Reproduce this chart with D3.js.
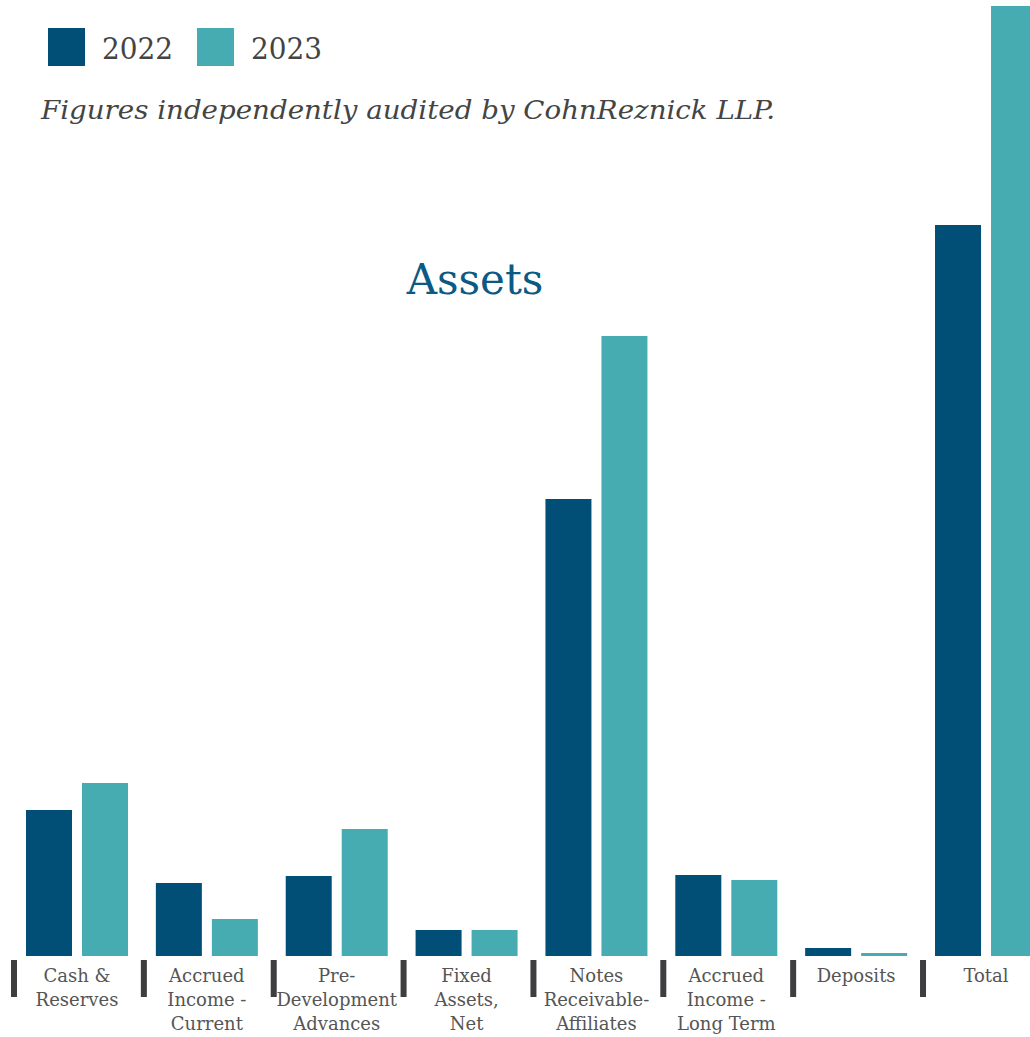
<!DOCTYPE html>
<html>
<head>
<meta charset="utf-8">
<script src="https://cdn.jsdelivr.net/npm/d3@7"></script>
<style>
  html, body { margin: 0; padding: 0; background: #ffffff; }
  svg { display: block; }
</style>
</head>
<body>
<svg id="chart" width="1030" height="1037"></svg>
<script>
// ---- data ----
const categories = ["Cash & Reserves", "Accrued Income - Current", "Pre-Development Advances", "Fixed Assets, Net",
  "Notes Receivable-Affiliates", "Accrued Income - Long Term", "Deposits", "Total"];
const categoryLines = [["Cash &", "Reserves"], ["Accrued", "Income -", "Current"], ["Pre-", "Development", "Advances"],
  ["Fixed", "Assets,", "Net"], ["Notes", "Receivable-", "Affiliates"], ["Accrued", "Income -", "Long Term"],
  ["Deposits"], ["Total"]];
const years = ["2022", "2023"];
const values2022 = [146, 73, 80, 26, 457, 81, 8, 731];
const values2023 = [173, 37, 127, 26, 620, 76, 3, 950];
const titleText = "Assets";
const noteText = "Figures independently audited by CohnReznick LLP.";

// ---- styles ----
const colors = { "2022": "#014e76", "2023": "#47acb1" };
const serif = "'DejaVu Serif', 'Liberation Serif', serif";

const svg = d3.select("#chart");
const W = 1030, baseY = 956;

const x0 = d3.scaleBand().domain(categories).range([11, 11 + 8 * 129.86]).paddingInner(0).paddingOuter(0);
const x1 = d3.scaleBand().domain(years).range([15, 117]).paddingInner(0.1786).paddingOuter(0);
const y = d3.scaleLinear().domain([0, 950]).range([baseY, 6]);

const rows = categories.map((c, i) => ({ cat: c, lines: categoryLines[i], v: { "2022": values2022[i], "2023": values2023[i] } }));

// bars
const g = svg.append("g");
const groups = g.selectAll("g.grp").data(rows).join("g")
  .attr("class", "grp")
  .attr("transform", d => `translate(${x0(d.cat)},0)`);
groups.selectAll("rect").data(d => years.map(yr => ({ yr, v: d.v[yr] }))).join("rect")
  .attr("x", d => x1(d.yr))
  .attr("width", x1.bandwidth())
  .attr("y", d => y(d.v))
  .attr("height", d => y(0) - y(d.v))
  .attr("fill", d => colors[d.yr]);

// separators (tick marks)
groups.append("rect")
  .attr("x", 0).attr("y", 960).attr("width", 6).attr("height", 37)
  .attr("fill", "#3e3e40");

// category labels
groups.append("text")
  .attr("text-anchor", "middle")
  .attr("font-family", serif)
  .attr("font-size", 18)
  .attr("fill", "#555555")
  .selectAll("tspan").data(d => d.lines).join("tspan")
  .attr("x", (x1.range()[0] + x1.range()[1]) / 2)
  .attr("y", (d, i) => 982 + i * 24)
  .text(d => d);

// title
svg.append("text")
  .attr("x", 475).attr("y", 294)
  .attr("text-anchor", "middle")
  .attr("font-family", serif)
  .attr("font-size", 42)
  .attr("fill", "#0a5a84")
  .text(titleText);

// legend
const legend = svg.append("g");
years.forEach((yr, i) => {
  const lx = 48 + i * 149;
  legend.append("rect").attr("x", lx).attr("y", 28).attr("width", 37).attr("height", 38).attr("fill", colors[yr]);
  legend.append("text").attr("x", lx + 54).attr("y", 59)
    .attr("font-family", serif).attr("font-size", 29).attr("fill", "#444444")
    .attr("textLength", 71).attr("lengthAdjust", "spacingAndGlyphs")
    .text(yr);
});

// note
svg.append("text")
  .attr("x", 41).attr("y", 119)
  .attr("font-family", serif)
  .attr("font-style", "italic")
  .attr("font-size", 26)
  .attr("fill", "#444444")
  .attr("textLength", 734).attr("lengthAdjust", "spacingAndGlyphs")
  .text(noteText);
</script>
</body>
</html>
